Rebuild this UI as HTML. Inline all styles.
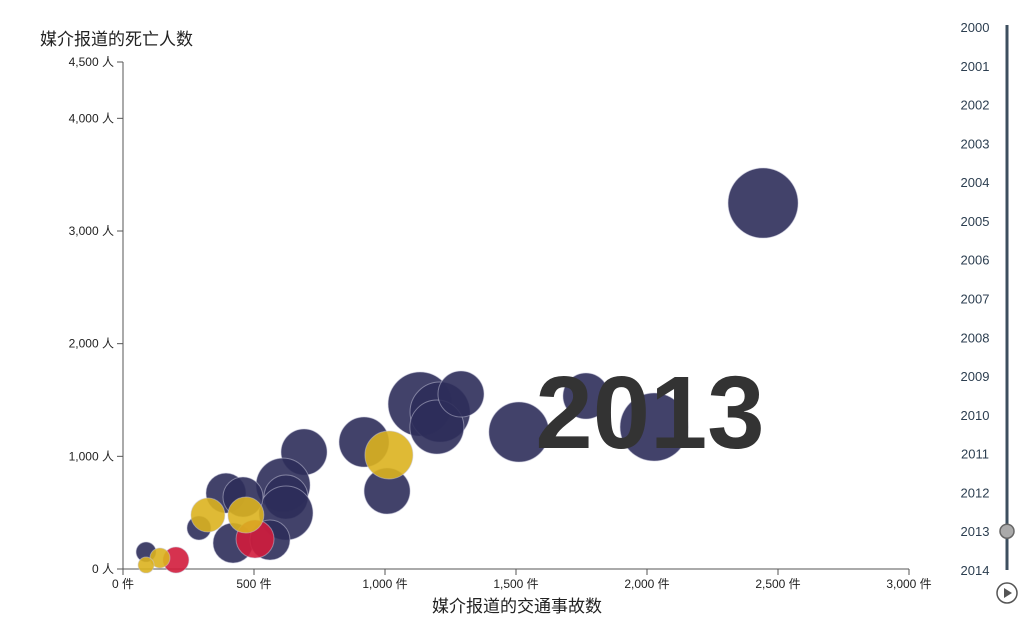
<!DOCTYPE html>
<html><head><meta charset="utf-8"><style>
body{margin:0;background:#fff;font-family:"Liberation Sans","Noto Sans CJK SC",sans-serif}
svg text{font-family:"Liberation Sans","Noto Sans CJK SC",sans-serif}
</style></head><body>
<svg id="c" width="1024" height="631"></svg>
<script>
const xVals=[2443,2027,1767,1511,1134,1210,1198,1290,920,1008,691,611,622,622,393,458,290,420,561,88,202,504,1015,324,469,141,88];
const yVals=[3248,1260,1535,1216,1464,1393,1260,1553,1127,692,1038,745,639,497,674,639,364,231,257,151,80,266,1012,479,479,98,35];
const sizes=[1225,1156,529,900,1024,900,729,529,625,529,529,729,484,729,400,400,144,400,400,100,169,361,576,289,324,100,64];
const groups=["a","a","a","a","a","a","a","a","a","a","a","a","a","a","a","a","a","a","a","a","b","b","c","c","c","c","c"];
const xTicks=[0,500,1000,1500,2000,2500,3000];
const yTicks=[0,1000,2000,3000,4000,4500];
const years=[2000,2001,2002,2003,2004,2005,2006,2007,2008,2009,2010,2011,2012,2013,2014];
const currentYear=2013;
const NS="http://www.w3.org/2000/svg",svg=document.getElementById('c');
const X=v=>123+v*786/3000, Y=v=>569-v*507/4500, R=s=>Math.sqrt(s/1225)*35;
const col={a:"#2e2d5a",b:"#d21c3c",c:"#dbb21f"};
function el(t,a,p){const e=document.createElementNS(NS,t);for(const k in a)e.setAttribute(k,a[k]);(p||svg).appendChild(e);return e;}
let ax=el('line',{x1:123,y1:569,x2:909,y2:569,stroke:'#555'});


let ay=el('line',{x1:123,y1:62,x2:123,y2:569,stroke:'#555'});


xTicks.forEach(t=>{el('line',{x1:X(t),y1:569,x2:X(t),y2:575,stroke:'#555'});
 const tx=el('text',{x:X(t),y:588,'text-anchor':'middle','font-size':12,fill:'#222'});tx.textContent=t.toLocaleString('en-US')+' 件';
 
 });
yTicks.forEach(t=>{el('line',{x1:117,y1:Y(t),x2:123,y2:Y(t),stroke:'#555'});
 const tx=el('text',{x:114,y:Y(t)+4,'text-anchor':'end','font-size':12,fill:'#222'});tx.textContent=t.toLocaleString('en-US')+' 人';
 
 });
let yt=el('text',{x:40,y:45,'font-size':17,fill:'#222'});yt.textContent='媒介报道的死亡人数';


let xt=el('text',{x:517,y:612,'text-anchor':'middle','font-size':17,fill:'#222'});xt.textContent='媒介报道的交通事故数';


xVals.forEach((v,i)=>{const c=el('circle',{cx:X(v),cy:Y(yVals[i]),r:R(sizes[i]),fill:col[groups[i]],'fill-opacity':0.9,stroke:'#c8c8dc','stroke-opacity':0.5,'stroke-width':1});
 
 });
let big=el('text',{x:650,y:448,'text-anchor':'middle','font-size':103,'font-weight':'bold',fill:'#333'});big.textContent=currentYear;


// slider
const sy=i=>27+i*(570-27)/(years.length-1);
let tr=el('line',{x1:1007,y1:25,x2:1007,y2:570,stroke:'#3d4f5f','stroke-width':3});


years.forEach((yr,i)=>{const t=el('text',{x:975,y:sy(i)+5,'text-anchor':'middle','font-size':13,fill:'#2c3e50'});t.textContent=yr;
 
 });
let kn=el('circle',{cx:1007,cy:sy(years.indexOf(currentYear)),r:7,fill:'#aaa',stroke:'#666','stroke-width':1.5});


let pb=el('circle',{cx:1007,cy:593,r:10,fill:'#fff',stroke:'#555','stroke-width':1.5});


el('path',{d:'M1004 588 L1012 593 L1004 598 Z',fill:'#555'});
</script>
</body></html>
